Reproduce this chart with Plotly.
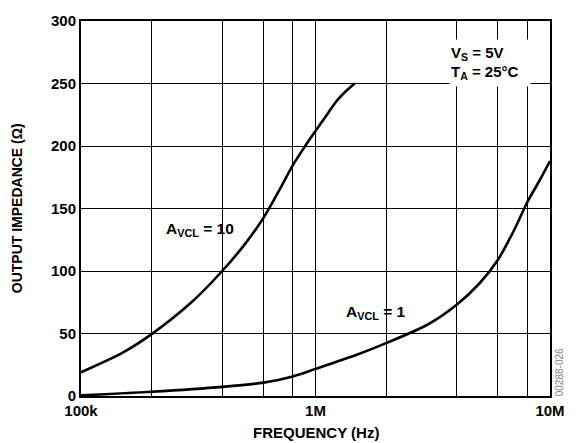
import plotly.graph_objects as go

# Data
freq_a10 = [1e5, 1.5e5, 2e5, 3e5, 4e5, 5e5, 6e5, 7e5, 8e5, 9e5, 1e6, 1.1e6, 1.23e6, 1.35e6, 1.47e6]
z_a10 = [19, 34.5, 49.5, 76, 100, 121.5, 142.5, 164.5, 184.5, 199.5, 212, 223, 236, 244, 250]

freq_a1 = [1e5, 2e5, 4e5, 6e5, 8e5, 1e6, 1.5e6, 2e6, 3e6, 4e6, 5e6, 6e6, 7e6, 8e6, 9e6, 1e7]
z_a1 = [0.5, 3.4, 7.3, 10.7, 15.7, 21.7, 33, 42.3, 57, 73, 90, 109, 132, 155, 172, 188]

x_tickvals = [1e5, 1e6, 1e7]
x_ticktext = ["100k", "1M", "10M"]
x_minor_grid = [2e5, 4e5, 6e5, 8e5, 2e6, 4e6, 6e6, 8e6]
y_tickvals = [0, 50, 100, 150, 200, 250, 300]

FONT = "Liberation Sans, Arial, sans-serif"

fig = go.Figure()
fig.add_trace(go.Scatter(x=freq_a10, y=z_a10, mode="lines",
                         line=dict(color="black", width=2.6, shape="spline", smoothing=0.8),
                         showlegend=False, hoverinfo="skip"))
fig.add_trace(go.Scatter(x=freq_a1, y=z_a1, mode="lines",
                         line=dict(color="black", width=2.6, shape="spline", smoothing=0.8),
                         showlegend=False, hoverinfo="skip"))

fig.update_layout(
    width=577, height=443,
    margin=dict(l=81, r=15, t=13, b=47),
    paper_bgcolor="white", plot_bgcolor="white",
    font=dict(family=FONT, size=15, color="black"),
    xaxis=dict(type="log", range=[5, 7],
               tickvals=x_tickvals, ticktext=x_ticktext,
               tickfont=dict(family=FONT, size=15, color="black", weight="bold"),
               showgrid=True, gridcolor="black", gridwidth=1.4,
               minor=dict(tickvals=x_minor_grid, showgrid=True, gridcolor="black", gridwidth=1.4, ticks=""),
               showline=True, linecolor="black", linewidth=2, mirror=True,
               ticks="", zeroline=False),
    yaxis=dict(range=[0, 300], tickvals=y_tickvals,
               tickfont=dict(family=FONT, size=15, color="black", weight="bold"),
               showgrid=True, gridcolor="black", gridwidth=1.4,
               showline=True, linecolor="black", linewidth=2, mirror=True,
               ticks="", zeroline=False),
    annotations=[
        dict(text="<b>OUTPUT IMPEDANCE (Ω)</b>", xref="paper", yref="paper",
             x=-0.137, y=0.5, textangle=-90, showarrow=False,
             xanchor="center", yanchor="middle", font=dict(size=14)),
        dict(text="<b>FREQUENCY (Hz)</b>", xref="paper", yref="paper",
             x=0.5, y=-0.097, showarrow=False,
             xanchor="center", yanchor="middle", font=dict(size=15)),
        dict(text="<b>A<sub>VCL</sub> = 10</b>", xref="paper", yref="paper",
             x=(203 - 81) / 481, y=(396 - 226) / 383, showarrow=False,
             xanchor="center", yanchor="middle", font=dict(size=15.5)),
        dict(text="<b>A<sub>VCL</sub> = 1</b>", xref="paper", yref="paper",
             x=(384 - 81) / 481, y=(396 - 311) / 383, showarrow=False,
             xanchor="center", yanchor="middle", font=dict(size=15.5)),
        dict(text="<b>V<sub>S</sub> = 5V<br>T<sub>A</sub> = 25°C</b>", xref="paper", yref="paper",
             x=(500.5 - 81) / 481, y=(396 - 55.5) / 383, showarrow=False,
             xanchor="center", yanchor="middle", align="left",
             width=78, height=44, bgcolor="white", borderpad=1,
             font=dict(size=15)),
        dict(text="00288-026", xref="paper", yref="paper",
             x=(572 - 81) / 481, y=(396 - 372) / 383, textangle=-90, showarrow=False,
             xanchor="center", yanchor="middle", font=dict(size=10, color="#808080")),
    ],
)

fig.write_html("out.html", config={"displayModeBar": False},
               post_script="document.body.style.margin='0';document.body.style.padding='0';document.body.style.overflow='hidden';")
